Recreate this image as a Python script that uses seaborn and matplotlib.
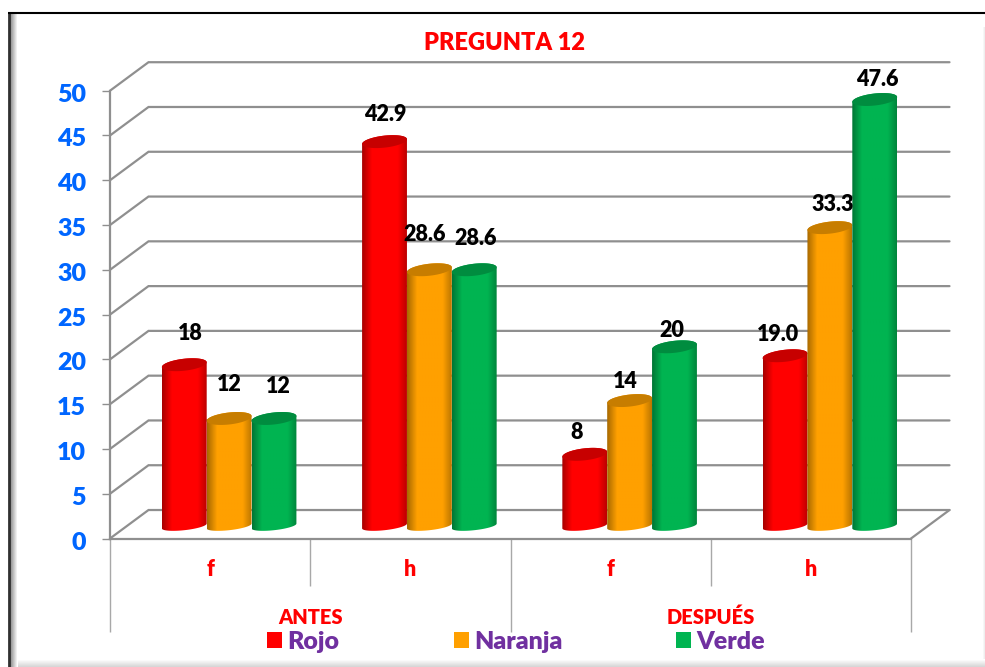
import numpy as np
import pandas as pd
import matplotlib
matplotlib.use('Agg')
import matplotlib.pyplot as plt
from matplotlib.colors import to_rgb
from matplotlib.patches import Patch, Polygon
from matplotlib.transforms import ScaledTranslation
import seaborn as sns

# datos
categorias = ['ANTES f', 'ANTES h', 'DESPUES f', 'DESPUES h']
etiquetas_x = ['f', 'h', 'f', 'h']
grupos = ['ANTES', 'DESPUÉS']
series = ['Rojo', 'Naranja', 'Verde']
rojo = [18, 42.9, 8, 19.0]
naranja = [12, 28.6, 14, 33.3]
verde = [12, 28.6, 20, 47.6]
textos_rojo = ['18', '42.9', '8', '19.0']
textos_naranja = ['12', '28.6', '14', '33.3']
textos_verde = ['12', '28.6', '20', '47.6']
ticks_y = list(range(0, 51, 5))

colores = ['#FF0000', '#FFA000', '#00B451']
gris = '#8F8F8F'
gris_claro = '#A8A8A8'
azul = '#0066FF'
morado = '#7030A0'

W, H = 985, 667
sns.set_theme(style='white')
plt.rcParams['font.family'] = ['Lato', 'DejaVu Sans']
fig = plt.figure(figsize=(W / 100, H / 100), dpi=100, facecolor='white')


def caja(x0, ytop, x1, ybot):
    # pixeles de la imagen -> fraccion de figura
    return [x0 / W, 1 - ybot / H, (x1 - x0) / W, (ybot - ytop) / H]


# marco exterior con sombra
bg = fig.add_axes([0, 0, 1, 1], zorder=0)
bg.set_xlim(0, W)
bg.set_ylim(H, 0)
bg.axis('off')
bg.imshow(np.linspace(0.55, 1, 8).reshape(1, -1), extent=(10, 18, H, 14), cmap='gray',
          vmin=0, vmax=1, aspect='auto')
bg.imshow(np.linspace(1, 0.84, 8).reshape(-1, 1), extent=(18, W, H, 659), cmap='gray',
          vmin=0, vmax=1, aspect='auto')
bg.imshow(np.linspace(1, 0.93, 3).reshape(1, -1), extent=(982, W, 659, 27), cmap='gray',
          vmin=0, vmax=1, aspect='auto')
bg.plot([9.2, 9.2], [H, 13], color='#303030', lw=2.0, solid_capstyle='butt')
bg.plot([8, W], [13.3, 13.3], color='black', lw=1.5, solid_capstyle='butt')
bg.set_xlim(0, W)
bg.set_ylim(H, 0)

# plano frontal: eje, ticks y rejilla
frame = fig.add_axes(caja(110, 90.7, 911, 538.5), zorder=1)
frame.patch.set_alpha(0)
frame.set_xlim(0, 4)
frame.set_ylim(0, 50)
sns.despine(ax=frame, top=True, right=True)
for lado in ['left', 'bottom']:
    frame.spines[lado].set_color(gris)
    frame.spines[lado].set_linewidth(1.6)
frame.set_yticks(ticks_y)
frame.set_yticklabels([str(t) for t in ticks_y], color=azul, fontsize=18, fontweight='heavy')
frame.tick_params(axis='y', left=True, length=5.8, width=1, color=gris, pad=11.5)
# bajar un poco los numeros del eje
bajar = ScaledTranslation(0, -2 / 100, fig.dpi_scale_trans)
for lab in frame.get_yticklabels():
    lab.set_transform(lab.get_transform() + bajar)
frame.set_xticks([0, 2, 4])
frame.set_xticks([1, 3], minor=True)
frame.set_xticklabels([])
frame.tick_params(axis='x', which='major', bottom=True, length=67, width=1, color=gris_claro)
frame.tick_params(axis='x', which='minor', bottom=True, length=34, width=1, color=gris_claro)

# profundidad de las paredes, en unidades del eje
prof_x = 38.5 / 200.25
prof_y = 28.5 / 8.96
for t in ticks_y:
    frame.plot([0, prof_x, 4 + prof_x], [t, t + prof_y, t + prof_y], color=gris, lw=1.6,
               clip_on=False, solid_joinstyle='miter')
frame.plot([4, 4 + prof_x], [0, prof_y], color=gris, lw=1.6, clip_on=False)

py = 50 / (538.5 - 90.7)
for i, et in enumerate(etiquetas_x):
    frame.text(i + 0.5, -(570 - 538.5) * py, et, color='red', fontsize=15.5, fontweight='heavy',
               ha='center', va='center')
for i, g in enumerate(grupos):
    frame.text(1 + 2 * i, -(617 - 538.5) * py, g, color='red', fontsize=14.5, fontweight='heavy',
               ha='center', va='center')

# barras en el plano medio
ax = fig.add_axes(caja(129, 78, 930, 526), zorder=2)
ax.patch.set_alpha(0)
df = pd.DataFrame({
    'categoria': categorias * 3,
    'serie': np.repeat(series, 4),
    'valor': rojo + naranja + verde,
})
sns.barplot(data=df, x='categoria', y='valor', hue='serie', hue_order=series, order=categorias,
            palette=colores, width=0.672, saturation=1, legend=False, ax=ax)
ax.set_xlim(-0.5, 3.5)
ax.set_ylim(0, 50)
ax.axis('off')

textos = [textos_rojo, textos_naranja, textos_verde]
# desplazamiento de cada etiqueta respecto a la tapa, en pixeles
ajustes = [[(6, 31), (1, 27), (-8, 22), (-7, 21)],
           [(0, 34), (-5, 35), (-4, 19), (3, 23)],
           [(4, 32), (1, 31), (-3, 16), (3, 20)]]
t = np.linspace(0, 2 * np.pi, 90)
alto_elipse = 6.0 * 50 / 448
alto_base = 4.2 * 50 / 448
incl = 2.4 * 50 / 448
capa = 3
for cont, color, txt, aj in zip(ax.containers, colores, textos, ajustes):
    base = np.array(to_rgb(color))
    # sombreado del cilindro: oscuro en los bordes
    perfil = np.interp(np.linspace(0, 1, 60), [0, 0.22, 0.8, 1], [0.66, 1, 1, 0.74])
    grad = (base[None, None, :] * perfil[None, :, None])
    for bar, s, (dx, dy) in zip(cont, txt, aj):
        x0, w, v = bar.get_x(), bar.get_width(), bar.get_height()
        xc = x0 + w / 2
        a = w / 2
        # cuerpo: tapa por arriba, media elipse por abajo
        ang = np.linspace(0, np.pi, 45)
        arriba = np.c_[xc + a * np.cos(ang), v + alto_elipse * np.sin(ang) + incl * np.cos(ang)]
        abajo = np.c_[xc - a * np.cos(ang), -alto_base * np.sin(ang) - incl * np.cos(ang)]
        cuerpo = Polygon(np.r_[arriba, abajo], transform=ax.transData)
        bar.set_visible(False)
        im = ax.imshow(grad, extent=(x0, x0 + w, -3, v + 3), aspect='auto', zorder=capa)
        im.set_clip_on(True)
        im.set_clip_box(fig.bbox)
        im.set_clip_path(cuerpo)
        # tapa mas oscura
        ax.fill(xc + a * np.cos(t), v + alto_elipse * np.sin(t) + incl * np.cos(t),
                color=base * 0.78, lw=0, zorder=capa + 0.5, clip_on=False)
        ax.annotate(s, (xc, v), xytext=(dx * 0.72, dy * 0.72), textcoords='offset points',
                    ha='center', va='center', fontsize=15.5, fontweight='heavy', color='black',
                    zorder=200, annotation_clip=False)
        capa += 1
ax.set_xlim(-0.5, 3.5)
ax.set_ylim(0, 50)

# titulo y leyenda
fig.text(504 / W, 1 - 42.5 / H, 'PREGUNTA 12', color='red', fontsize=17, fontweight='heavy',
         ha='center', va='center')
for nombre, color, xpx in zip(series, colores, [267, 454, 676]):
    leg = fig.legend(handles=[Patch(facecolor=color, edgecolor='none')], labels=[nombre],
                     loc='center left', bbox_to_anchor=(xpx / W, 1 - 642 / H), frameon=False,
                     handlelength=0.6, handleheight=0.6, handletextpad=0.2, borderpad=0,
                     borderaxespad=0, prop={'size': 18, 'weight': 'heavy'})
    for tx in leg.get_texts():
        tx.set_color(morado)

fig.savefig('out.png', dpi=100)
